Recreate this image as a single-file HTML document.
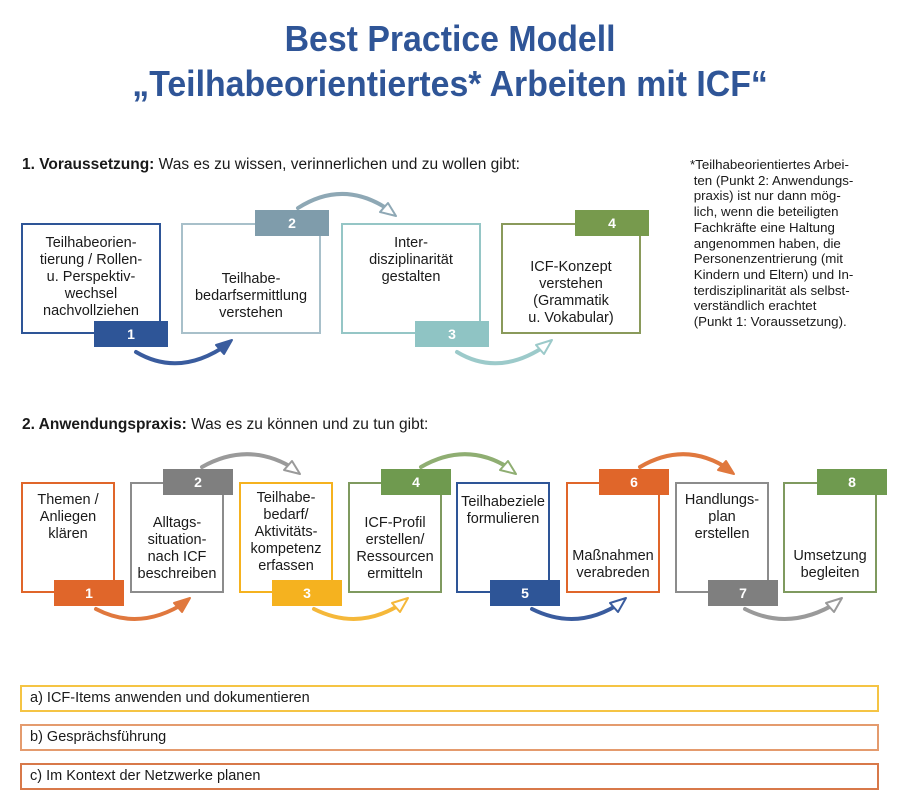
<!DOCTYPE html>
<html><head><meta charset="utf-8">
<style>
body{margin:0;width:900px;height:806px;background:#fff;position:relative;overflow:hidden;font-family:"Liberation Sans Narrow","Liberation Sans",sans-serif;color:#1a1a1a}
.t{position:absolute;left:0;width:900px;text-align:center;color:#2f5597;font-weight:bold;font-family:"Liberation Sans",sans-serif;font-size:36px;line-height:42px}
.t span{display:inline-block;transform:scaleX(.94)}
.a{position:absolute;font-family:"Liberation Sans",sans-serif;font-size:15.5px}
.box{position:absolute;box-sizing:border-box;border:2px solid;background:#fff;text-align:center;font-family:"Liberation Sans",sans-serif;font-size:14.5px;line-height:17px;display:flex;justify-content:center;white-space:nowrap}
.tab{position:absolute;color:#fff;font-weight:bold;font-size:14px;text-align:center;line-height:26px;font-family:"Liberation Sans",sans-serif}
.bar{position:absolute;left:20px;width:859px;height:27px;box-sizing:border-box;border:2px solid;font-size:14.5px;line-height:23px;padding-left:8px;font-family:"Liberation Sans",sans-serif}
.fn{position:absolute;left:690px;top:157px;font-family:"Liberation Sans",sans-serif;font-size:13.3px;line-height:15.7px;white-space:pre}
</style></head><body>
<div class="t" style="top:18px"><span>Best Practice Modell</span></div>
<div class="t" style="top:63px"><span>„Teilhabeorientiertes* Arbeiten mit ICF“</span></div>

<div class="a" style="left:22px;top:156px"><b>1. Voraussetzung:</b> Was es zu wissen, verinnerlichen und zu wollen gibt:</div>
<div class="fn">*Teilhabeorientiertes Arbei-
 ten (Punkt 2: Anwendungs-
 praxis) ist nur dann mög-
 lich, wenn die beteiligten
 Fachkräfte eine Haltung
 angenommen haben, die
 Personenzentrierung (mit
 Kindern und Eltern) und In-
 terdisziplinarität als selbst-
 verständlich erachtet
 (Punkt 1: Voraussetzung).</div>

<svg style="position:absolute;left:0;top:0" width="900" height="806">
<g fill="none" stroke-width="4" stroke-linecap="round">
<path d="M136 352 Q180 378 228 344" stroke="#3a5c9e"/>
<path d="M298 208 Q345 178 392 212" stroke="#8ea8b5"/>
<path d="M457 352 Q500 378 548 344" stroke="#9ccaca"/>
<path d="M96 609 Q140 632 186 602" stroke="#e0783e"/>
<path d="M202 467 Q250 440 296 470" stroke="#9a9a9a"/>
<path d="M314 609 Q360 632 404 602" stroke="#f5b83a"/>
<path d="M421 467 Q468 440 512 470" stroke="#8fae72"/>
<path d="M532 609 Q578 632 622 602" stroke="#3a5c9e"/>
<path d="M640 467 Q686 440 730 470" stroke="#e0783e"/>
<path d="M745 609 Q790 632 838 602" stroke="#9a9a9a"/>
</g>
<g stroke-width="2" stroke-linejoin="round">
<path d="M232 340 L216 345 L224 354Z" fill="#3a5c9e" stroke="#3a5c9e"/>
<path d="M396 216 L380 212 L388 203Z" fill="#fff" stroke="#8ea8b5"/>
<path d="M552 340 L536 345 L544 354Z" fill="#fff" stroke="#9ccaca"/>
<path d="M190 598 L174 603 L182 612Z" fill="#e0783e" stroke="#e0783e"/>
<path d="M300 474 L284 470 L292 461Z" fill="#fff" stroke="#9a9a9a"/>
<path d="M408 598 L392 603 L400 612Z" fill="#fff" stroke="#f5b83a"/>
<path d="M516 474 L500 470 L508 461Z" fill="#fff" stroke="#8fae72"/>
<path d="M626 598 L610 603 L618 612Z" fill="#fff" stroke="#3a5c9e"/>
<path d="M734 474 L718 470 L726 461Z" fill="#e0783e" stroke="#e0783e"/>
<path d="M842 598 L826 603 L834 612Z" fill="#fff" stroke="#9a9a9a"/>
</g>
</svg>

<!-- Row 1 -->
<div class="box" style="left:21px;top:223px;width:140px;height:111px;border-color:#2e5597;padding-top:10px">Teilhabeorien-<br>tierung / Rollen-<br>u. Perspektiv-<br>wechsel<br>nachvollziehen</div>
<div class="box" style="left:181px;top:223px;width:140px;height:111px;border-color:#a8c0ca;padding-top:46px">Teilhabe-<br>bedarfsermittlung<br>verstehen</div>
<div class="box" style="left:341px;top:223px;width:140px;height:111px;border-color:#95c6c6;padding-top:10px">Inter-<br>disziplinarität<br>gestalten</div>
<div class="box" style="left:501px;top:223px;width:140px;height:111px;border-color:#8a9a5b;padding-top:34px">ICF-Konzept<br>verstehen<br>(Grammatik<br>u. Vokabular)</div>
<div class="tab" style="left:94px;top:321px;width:74px;height:26px;background:#2e5597">1</div>
<div class="tab" style="left:255px;top:210px;width:74px;height:26px;background:#7f9cab">2</div>
<div class="tab" style="left:415px;top:321px;width:74px;height:26px;background:#8fc4c4">3</div>
<div class="tab" style="left:575px;top:210px;width:74px;height:26px;background:#779a4d">4</div>

<div class="a" style="left:22px;top:416px"><b>2. Anwendungspraxis:</b> Was es zu können und zu tun gibt:</div>

<!-- Row 2 -->
<div class="box" style="left:21px;top:482px;width:94px;height:111px;border-color:#e0662a;padding-top:8px">Themen /<br>Anliegen<br>klären</div>
<div class="box" style="left:130px;top:482px;width:94px;height:111px;border-color:#8c8c8c;padding-top:31px">Alltags-<br>situation-<br>nach ICF<br>beschreiben</div>
<div class="box" style="left:239px;top:482px;width:94px;height:111px;border-color:#f5b21f;padding-top:6px">Teilhabe-<br>bedarf/<br>Aktivitäts-<br>kompetenz<br>erfassen</div>
<div class="box" style="left:348px;top:482px;width:94px;height:111px;border-color:#7f9a5f;padding-top:31px">ICF-Profil<br>erstellen/<br>Ressourcen<br>ermitteln</div>
<div class="box" style="left:456px;top:482px;width:94px;height:111px;border-color:#2e5597;padding-top:10px">Teilhabeziele<br>formulieren</div>
<div class="box" style="left:566px;top:482px;width:94px;height:111px;border-color:#e0662a;padding-top:64px">Maßnahmen<br>verabreden</div>
<div class="box" style="left:675px;top:482px;width:94px;height:111px;border-color:#8c8c8c;padding-top:8px">Handlungs-<br>plan<br>erstellen</div>
<div class="box" style="left:783px;top:482px;width:94px;height:111px;border-color:#7f9a5f;padding-top:64px">Umsetzung<br>begleiten</div>
<div class="tab" style="left:54px;top:580px;width:70px;height:26px;background:#e0662a">1</div>
<div class="tab" style="left:163px;top:469px;width:70px;height:26px;background:#7f7f7f">2</div>
<div class="tab" style="left:272px;top:580px;width:70px;height:26px;background:#f5b21f">3</div>
<div class="tab" style="left:381px;top:469px;width:70px;height:26px;background:#6f9a4f">4</div>
<div class="tab" style="left:490px;top:580px;width:70px;height:26px;background:#2e5597">5</div>
<div class="tab" style="left:599px;top:469px;width:70px;height:26px;background:#e0662a">6</div>
<div class="tab" style="left:708px;top:580px;width:70px;height:26px;background:#7f7f7f">7</div>
<div class="tab" style="left:817px;top:469px;width:70px;height:26px;background:#6f9a4f">8</div>

<div class="bar" style="top:685px;border-color:#f5c444">a) ICF-Items anwenden und dokumentieren</div>
<div class="bar" style="top:724px;border-color:#e49b6e">b) Gesprächsführung</div>
<div class="bar" style="top:763px;border-color:#d8794a">c) Im Kontext der Netzwerke planen</div>
</body></html>
